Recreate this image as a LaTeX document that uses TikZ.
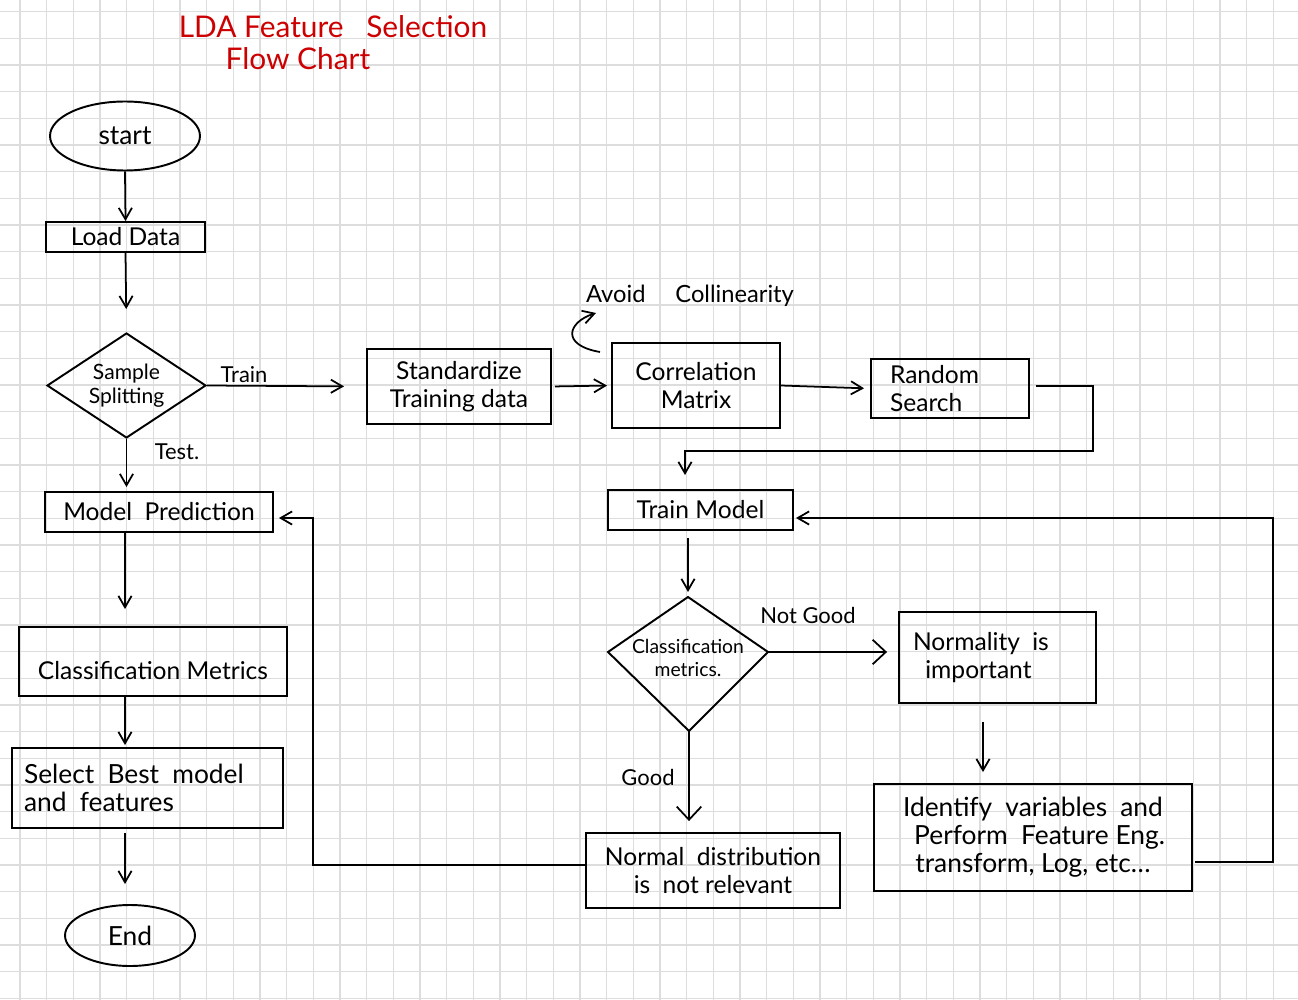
\documentclass[tikz,border=0pt]{standalone}
\usepackage{fontspec}
\setmainfont{Lato}
\usetikzlibrary{arrows.meta,shapes.geometric,calc}
\newcommand\bxf{\fontsize{14}{16}\selectfont}
\newcommand\bigbxf{\fontsize{15}{16}\selectfont}
\newcommand\dmf{\fontsize{11}{13}\selectfont}
\newcommand\lbf{\fontsize{12.5}{15}\selectfont}
\newcommand\avf{\fontsize{13.5}{15}\selectfont}
\newcommand\ttf{\fontsize{17}{19}\selectfont}
\definecolor{gridc}{HTML}{DDDDDD}
\definecolor{titlered}{HTML}{CC0000}
\begin{document}
\begin{tikzpicture}[x=0.02cm,y=-0.02cm,
  gridline/.style={draw=gridc,line width=0.7pt},
  box/.style={draw,line width=1.1pt,inner sep=0pt,align=center,font=\bxf},
  oval/.style={draw,ellipse,line width=1.1pt,inner sep=0pt,font=\bigbxf},
  dia/.style={diamond,line width=1.1pt,inner sep=0pt,align=center,font=\dmf},
  lbl/.style={inner sep=0pt,font=\lbf},
  arr/.style={line width=1pt,-{Straight Barb[length=6.5pt,width=7.5pt]}},
  bigarr/.style={line width=1pt,-{Straight Barb[length=7.5pt,width=14pt]}},
  wire/.style={line width=1pt}]
\useasboundingbox (0,0) rectangle (1298,1000);
\fill[white] (0,0) rectangle (1298,1000);
% grid
\foreach \k in {0,...,48} \draw[gridline] ({20+26.667*\k},0) -- ({20+26.667*\k},1000);
\foreach \k in {0,...,37} \draw[gridline] (0,{11.667+26.667*\k}) -- (1298,{11.667+26.667*\k});
% title
\node[inner sep=0pt,font=\ttf,text=titlered] (t1) at (333,27) {LDA Feature\enspace\ Selection};
\node[inner sep=0pt,font=\ttf,text=titlered] (t2) at (298,59) {Flow Chart};
% left column
\node[oval,minimum width=3.0cm,minimum height=1.38cm] (st) at (125,136) {start};
\node[box,minimum width=3.18cm,minimum height=0.6cm] (ld) at (125.5,237) {Load Data};
\node[dia,draw,shape aspect=1.5,font=\fontsize{12}{14}\selectfont,minimum width=3.18cm,minimum height=2.1cm] (ss) at (126.5,385.5) {Sample\\Splitting};
\node[box,minimum width=4.56cm,minimum height=0.8cm] (mp) at (159,512) {Model\enspace Prediction};
\node[box,minimum width=5.36cm,minimum height=1.38cm] (cm) at (153,661.5) {\raisebox{-10pt}[0pt][0pt]{Classification Metrics}};
\node[box,font=\bigbxf,align=left,inner xsep=0.24cm,text width=4.94cm,minimum height=1.6cm] (sb) at (147.5,788) {Select\enspace Best\enspace model\\and\enspace features};
\node[oval,minimum width=2.6cm,minimum height=1.22cm] (en) at (130,935.5) {End};
% top row
\node[box,minimum width=3.68cm,minimum height=1.5cm] (sd) at (459,386.5) {Standardize\\Training data};
\node[box,minimum width=3.36cm,minimum height=1.7cm] (cr) at (696,385.5) {Correlation\\Matrix};
\node[box,align=left,inner xsep=0.38cm,text width=2.4cm,minimum height=1.18cm] (rs) at (950,388.5) {Random\\Search};
% right part
\node[box,minimum width=3.7cm,minimum height=0.8cm] (tm) at (700.5,510) {Train Model};
\node[dia] (cl) at (688,658) {Classification\\metrics.};
\coordinate (cn) at ($(cl.center)+(0,-61)$);
\coordinate (ce) at ($(cl.center)+(80,-6)$);
\coordinate (cs) at ($(cl.center)+(1,73)$);
\coordinate (cw) at ($(cl.center)+(-80,-6)$);
\draw[line width=1.1pt] (cn) -- (ce) -- (cs) -- (cw) -- cycle;
\node[box,minimum width=5.08cm,minimum height=1.5cm] (nd) at (713,870.5) {Normal\enspace distribution\\is\enspace not relevant};
\node[box,align=left,inner xsep=0.28cm,text width=3.38cm,minimum height=1.82cm] (ni) at (997.5,657.5) {Normality\enspace is\\\enspace important};
\node[box,font=\bigbxf,minimum width=6.36cm,minimum height=2.14cm] (id) at (1033,837.5) {Identify\enspace variables\enspace and\\\enspace Perform\enspace Feature Eng.\\transform, Log, etc\dots};
% labels
\node[lbl] (ltrain) at (244,375) {Train};
\node[lbl] (ltest) at (177,452) {Test.};
\node[lbl] (lnot) at (808,615) {Not Good};
\node[lbl] (lgood) at (648,777) {Good};
\node[lbl,font=\avf] (lavoid) at (690,296) {Avoid\hspace{17pt}Collinearity};
% coordinates
\coordinate (c1) at (1093,386);
\coordinate (c2) at (685,451);
\coordinate (c3) at (313,865);
\coordinate (c4) at (313,518);
\coordinate (c5) at (983,722);
\coordinate (c6) at (1273,862);
\coordinate (c7) at (1273,518);
\coordinate (a1) at (600,352);
\coordinate (a2) at (596,313);
% connectors
\draw[arr] (st.south) -- (ld.north);
\draw[arr,shorten >=0.46cm] (ld.south) -- (ss.north);
\draw[arr,shorten >=0.44cm] (ss.east) -- (sd.west);
\draw[arr,shorten >=0.08cm] (ss.south) -- (mp.north -| ss.south);
\draw[arr,shorten >=0.34cm] (mp.south -| st) -- (cm.north -| st);
\draw[arr,shorten >=0.04cm] (cm.south -| st) -- (sb.north -| st);
\draw[arr,shorten <=0.08cm,shorten >=0.4cm] (sb.south -| st) -- (en.north -| st);
\draw[arr,shorten <=0.06cm,shorten >=0.08cm] (sd.east) -- (cr.west);
\draw[arr,shorten >=0.12cm] (cr.east) -- (rs.west);
\draw[arr,shorten <=0.12cm,shorten >=0.28cm] (rs.east |- c1) -- (c1) |- (c2) -- (c2 |- tm.north);
\draw[arr,shorten <=0.14cm,shorten >=0.1cm] (tm.south -| cn) -- (cn);
\draw[bigarr,shorten >=0.22cm] (ce) -- (ni.west |- ce);
\draw[bigarr,shorten >=0.22cm] (cs) -- (nd.north -| cs);
\draw[arr,shorten >=0.1cm] (nd.west |- c3) -- (c3) -- (c4) -- (mp.east |- c4);
\draw[arr,shorten >=0.22cm] (c5) -- (c5 |- id.north);
\draw[arr,shorten <=0.04cm,shorten >=0.04cm] (id.east |- c6) -- (c6) -- (c7) -- (tm.east |- c7);
\draw[arr] (a1) .. controls (560,345) and (568,322) .. (a2);
\end{tikzpicture}
\end{document}
